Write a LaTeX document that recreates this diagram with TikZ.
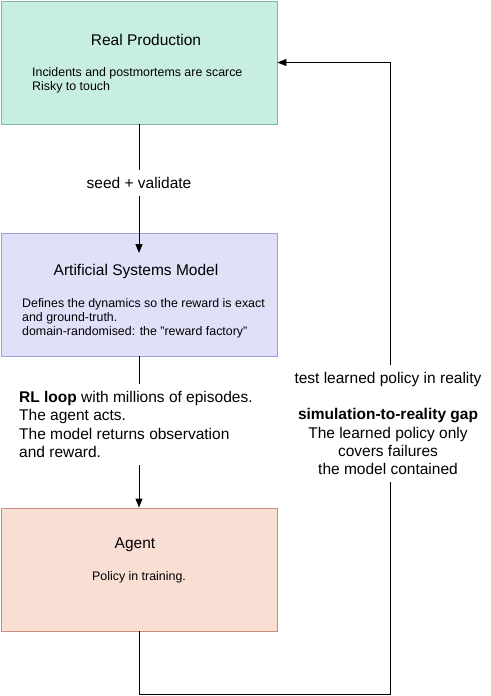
\documentclass[tikz,border=0pt]{standalone}
\usepackage{fontspec}
\setmainfont{Liberation Sans}
\usetikzlibrary{arrows.meta,positioning}
\definecolor{realfill}{HTML}{C8EEE0}
\definecolor{realdraw}{HTML}{7DB9A0}
\definecolor{simfill}{HTML}{E1E0F9}
\definecolor{simdraw}{HTML}{A19DD8}
\definecolor{agentfill}{HTML}{F9DED4}
\definecolor{agentdraw}{HTML}{C98F7E}
\tikzset{
  stagebox/.style={draw,line width=0.9pt,minimum width=276pt,minimum height=123pt,inner sep=0pt},
  stagetitle/.style={font=\fontsize{15.5}{18}\selectfont,inner sep=0pt},
  stagebody/.style={font=\fontsize{12.4}{14.4}\selectfont,align=left,inner sep=0pt},
  flowlabel/.style={font=\fontsize{15.5}{18.3}\selectfont,fill=white,inner xsep=2pt,inner ysep=7pt},
  flowarrow/.style={-{Triangle[length=9pt,width=7pt]},line width=0.9pt}
}
\begin{document}
\begin{tikzpicture}[x=1pt,y=-1pt]
\useasboundingbox (0,0) rectangle (490,696);
% the three stages
\node[stagebox,fill=realfill,draw=realdraw] (real) at (139,62.5) {};
\node[stagebox,fill=simfill,draw=simdraw] (sim) at (139,294.5) {};
\node[stagebox,fill=agentfill,draw=agentdraw] (agent) at (139,569.5) {};
\node[stagetitle] (realtitle) at (146,40) {Real Production};
\node[stagebody,anchor=north west] (realbody) at (32,67)
  {Incidents and postmortems are scarce\\Risky to touch};
\node[stagetitle] (simtitle) at (136,271) {Artificial Systems Model};
\node[stagebody,anchor=north west] (simbody) at (22,298)
  {Defines the dynamics so the reward is exact\\and ground-truth.\\domain-randomised: the "reward factory"};
\node[stagetitle] (agenttitle) at (135,545) {Agent};
\node[stagebody] (agentbody) at (139,577) {Policy in training.};
% flow down
\coordinate (simin) at (139,253);
\draw[flowarrow] (real.south) -- (simin);
\node[flowlabel] (seed) at (139,183) {seed + validate};
\draw[flowarrow] (sim.south) -- (agent.north);
\node[flowlabel,align=left,anchor=west,inner xsep=0pt] (rlloop) at (19,424.5)
  {\textbf{RL loop} with millions of episodes.\\The agent acts.\\The model returns observation\\and reward.};
% feedback to reality
\coordinate (fbcorner) at (390,694);
\draw[flowarrow] (agent.south) |- (fbcorner) |- (real.east);
\node[flowlabel,align=center] (gap) at (388,423.5)
  {test learned policy in reality\\[18.3pt]\textbf{simulation-to-reality gap}\\The learned policy only\\covers failures\\the model contained};
\end{tikzpicture}
\end{document}
